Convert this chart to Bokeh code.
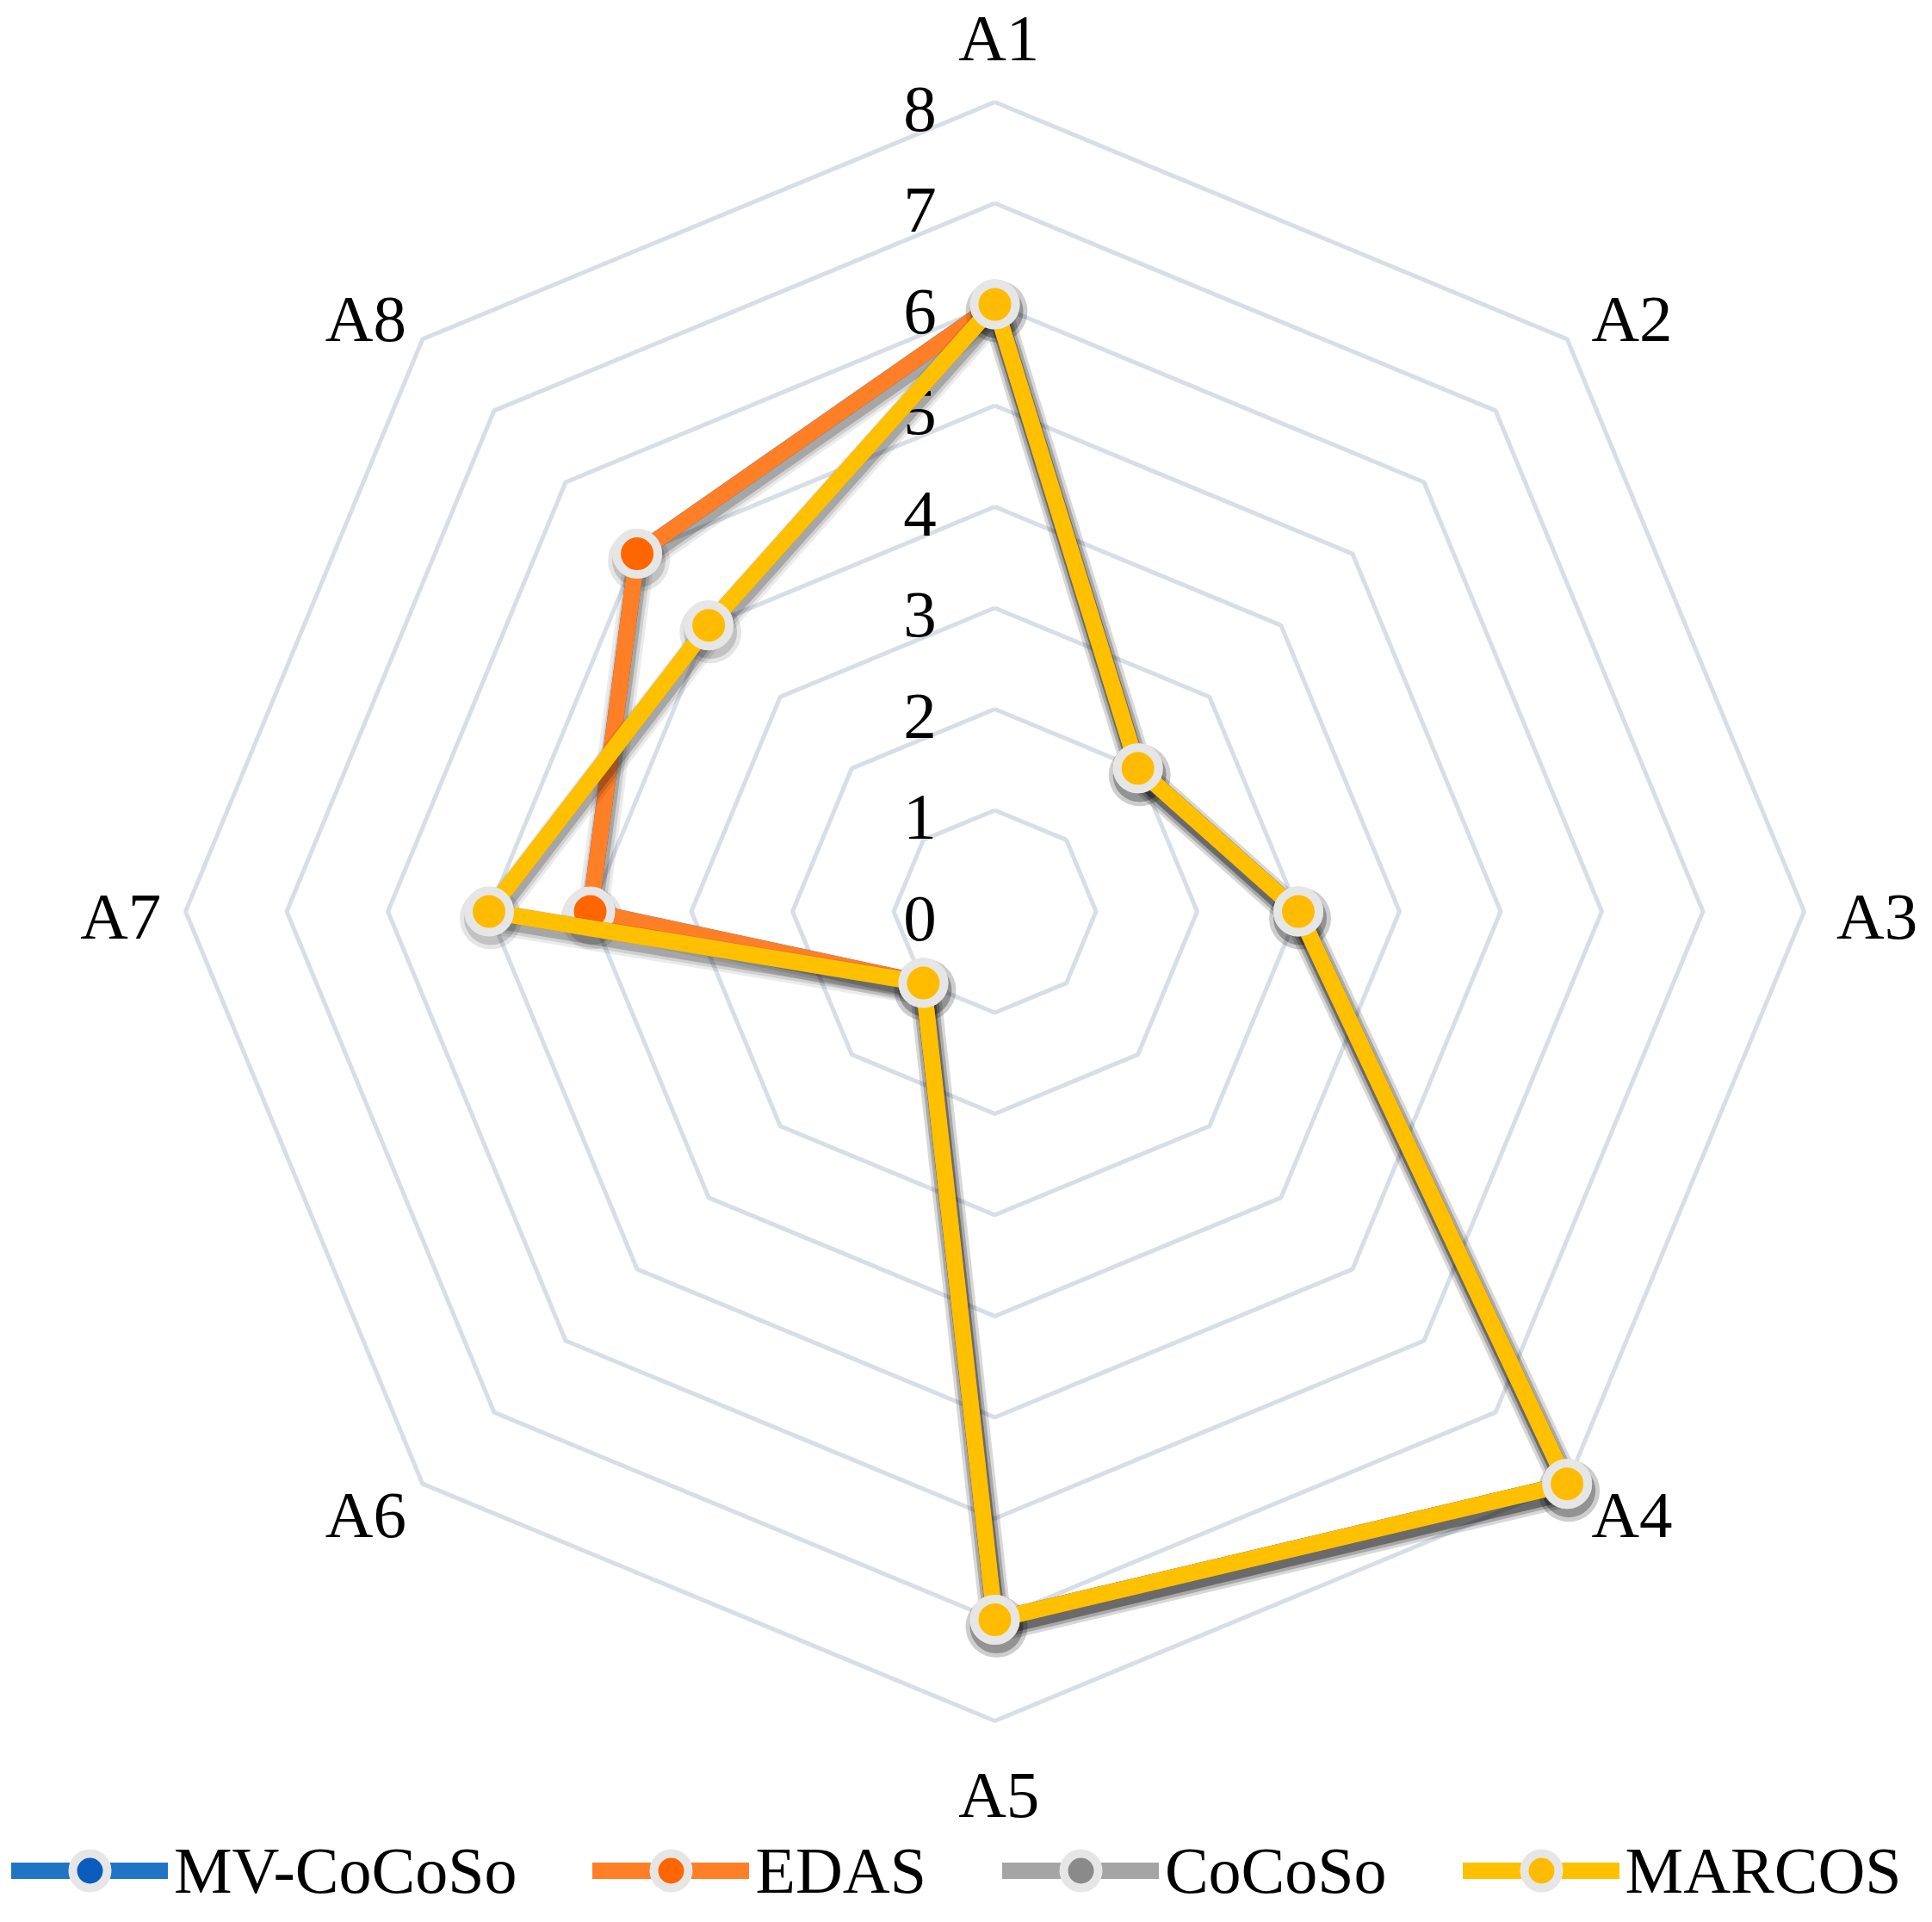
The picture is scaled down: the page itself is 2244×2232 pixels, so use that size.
import numpy as np
from bokeh.plotting import figure
from bokeh.models import Range1d, Legend, LegendItem
from bokeh.core.properties import value
from bokeh.embed import file_html
from bokeh.resources import INLINE

# ---------------- data ----------------
categories = ["A1", "A2", "A3", "A4", "A5", "A6", "A7", "A8"]
tick_values = [0, 1, 2, 3, 4, 5, 6, 7, 8]
series_names = ["MV-CoCoSo", "EDAS", "CoCoSo", "MARCOS"]
mv_cocoso = [6, 2, 3, 8, 7, 1, 4, 5]
edas = [6, 2, 3, 8, 7, 1, 4, 5]
cocoso = [6, 2, 3, 8, 7, 1, 5, 4]
marcos = [6, 2, 3, 8, 7, 1, 5, 4]
series_values = [mv_cocoso, edas, cocoso, marcos]
line_colors = ["#1F74C6", "#FF7F27", "#A5A5A5", "#FFC000"]
marker_colors = ["#0A5CBD", "#FF6600", "#8A8A8A", "#FFBB00"]

# ---------------- layout ----------------
W, H = 2228, 2216
U = 117.5            # pixels per unit of radius
CX, CY = 1155, 1058  # centre in figure pixels (from left / top)
FONT = value("Liberation Serif")

p = figure(width=W, height=H,
           x_range=Range1d(-CX / U, (W - CX) / U),
           y_range=Range1d(-(H - CY) / U, CY / U),
           output_backend="svg", toolbar_location=None,
           x_axis_location=None, y_axis_location=None,
           min_border=0, background_fill_color="white",
           border_fill_color="white")
p.grid.visible = False
p.outline_line_color = None

n = len(categories)
theta = np.pi / 2 - np.arange(n) * 2 * np.pi / n
theta_c = np.append(theta, theta[0])

# grid rings
ring_xs = [list(r * np.cos(theta_c)) for r in tick_values if r > 0]
ring_ys = [list(r * np.sin(theta_c)) for r in tick_values if r > 0]
p.multi_line(ring_xs, ring_ys, line_color="#D8DEE6", line_width=5)

# radial tick labels
p.text(x=[-87 / U] * len(tick_values), y=list(np.array(tick_values) - 0.07),
       text=[str(t) for t in tick_values], text_align="center",
       text_baseline="middle", text_font=FONT,
       text_font_size="77px", text_color="black")

# category labels
diag = (np.arange(n) % 2 == 1)
rx = np.where(diag, 8.85, 8.68)
ry = np.where(diag, 8.36, 8.68)
p.text(x=list(rx * np.cos(theta) + 0.04), y=list(ry * np.sin(theta) - 0.05),
       text=categories, text_align="center", text_baseline="middle",
       text_font=FONT, text_font_size="77px", text_color="black")

# series
sdx, sdy = 2 / U, -8 / U
items = []
for name, vals, lc, mc in zip(series_names, series_values, line_colors, marker_colors):
    v = np.array(vals + vals[:1], dtype=float)
    xs = v * np.cos(theta_c)
    ys = v * np.sin(theta_c)
    # soft drop shadow
    for w, a in [(36, 0.04), (29, 0.06), (22, 0.10)]:
        p.line(xs + sdx, ys + sdy, line_color="black", line_alpha=a,
               line_width=w, line_join="round", line_cap="round")
    for s, a in [(72, 0.05), (62, 0.08)]:
        p.scatter(xs[:-1] + sdx, ys[:-1] + sdy, size=s, fill_color="black",
                  fill_alpha=a, line_color=None)
    lr = p.line(xs, ys, line_color=lc, line_width=19, line_join="round",
                line_cap="round")
    sr = p.scatter(xs[:-1], ys[:-1], size=48, fill_color=mc,
                   line_color="#E6E6E6", line_width=10)
    items.append(LegendItem(label=name, renderers=[lr, sr]))

legend = Legend(items=items, orientation="horizontal", location=(13, -6),
                glyph_width=182, glyph_height=100, label_standoff=7,
                spacing=88, padding=0, margin=0,
                border_line_color=None, background_fill_alpha=0,
                label_text_font="Liberation Serif",
                label_text_font_size="76px", label_text_color="black")
p.add_layout(legend)

open("out.html", "w").write(file_html(p, INLINE))
